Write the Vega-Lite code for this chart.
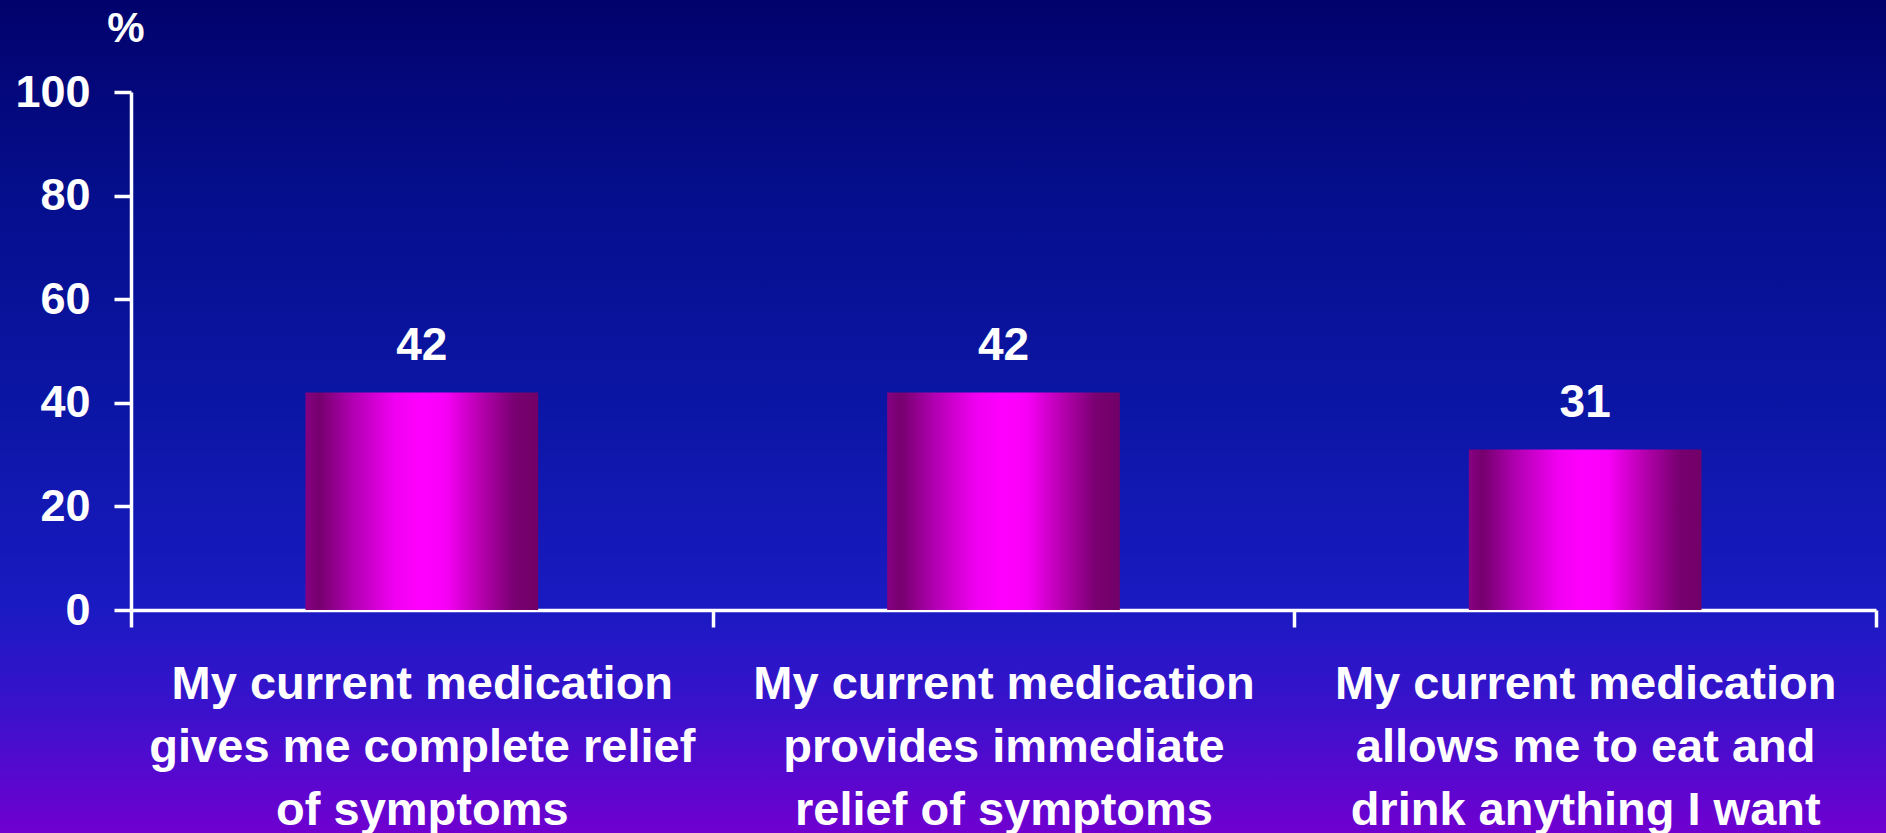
{
  "$schema": "https://vega.github.io/schema/vega-lite/v6.json",
  "width": 1886,
  "height": 833,
  "autosize": {"type": "none"},
  "padding": 0,
  "background": "#0c14a0",
  "view": {
    "stroke": null,
    "fill": {
      "gradient": "linear",
      "x1": 0, "y1": 0, "x2": 0, "y2": 1,
      "stops": [
        {"offset": 0, "color": "#02026c"},
        {"offset": 0.25, "color": "#050f8e"},
        {"offset": 0.5, "color": "#0c16a6"},
        {"offset": 0.73, "color": "#1a1ac2"},
        {"offset": 0.85, "color": "#3a12cc"},
        {"offset": 1, "color": "#7000d0"}
      ]
    }
  },
  "config": {
    "axis": {"grid": false},
    "text": {"font": "Liberation Sans"}
  },
  "data": {
    "values": [
      {"statement": "My current medication|gives me complete relief|of symptoms", "percent": 42},
      {"statement": "My current medication|provides immediate|relief of symptoms", "percent": 42},
      {"statement": "My current medication|allows me to eat and|drink anything I want", "percent": 31}
    ]
  },
  "encoding": {
    "x": {
      "field": "statement",
      "type": "nominal",
      "sort": null,
      "scale": {"range": [131, 1876], "paddingInner": 0, "paddingOuter": 0},
      "axis": {
        "title": null,
        "orient": "bottom",
        "offset": -223,
        "domainColor": "white",
        "domainWidth": 3.5,
        "tickColor": "white",
        "tickWidth": 3.5,
        "tickSize": 17,
        "tickBand": "extent",
        "labelColor": "white",
        "labelFont": "Liberation Sans",
        "labelFontWeight": "bold",
        "labelFontSize": 47,
        "labelLineHeight": 63,
        "labelPadding": 34,
        "labelAngle": 0,
        "labelLimit": 0,
        "labelOverlap": false,
        "labelExpr": "isString(datum.value) ? split(datum.value, '|') : ''"
      }
    },
    "y": {
      "field": "percent",
      "type": "quantitative",
      "scale": {"domain": [0, 100], "range": [610, 92], "nice": false},
      "axis": {
        "values": [0, 20, 40, 60, 80, 100],
        "title": "%",
        "titleAngle": 0,
        "titleX": -5.5,
        "titleY": 41,
        "titleAlign": "center",
        "titleBaseline": "alphabetic",
        "titleFontSize": 42,
        "titleColor": "white",
        "titleFont": "Liberation Sans",
        "titleFontWeight": "bold",
        "offset": -131,
        "domainColor": "white",
        "domainWidth": 3.5,
        "tickColor": "white",
        "tickWidth": 3.5,
        "tickSize": 17,
        "labelPadding": 24,
        "labelFontSize": 45,
        "labelColor": "white",
        "labelFont": "Liberation Sans",
        "labelFontWeight": "bold"
      }
    }
  },
  "layer": [
    {
      "mark": {
        "type": "bar",
        "width": {"band": 0.4},
        "fill": {
          "gradient": "linear",
          "x1": 0, "y1": 0, "x2": 1, "y2": 0,
          "stops": [
            {"offset": 0, "color": "#860082"},
            {"offset": 0.06, "color": "#76006e"},
            {"offset": 0.2, "color": "#b000b0"},
            {"offset": 0.38, "color": "#f000f0"},
            {"offset": 0.5, "color": "#ff00ff"},
            {"offset": 0.6, "color": "#f800f8"},
            {"offset": 0.75, "color": "#b800b0"},
            {"offset": 0.9, "color": "#780070"},
            {"offset": 1, "color": "#720068"}
          ]
        }
      }
    },
    {
      "mark": {
        "type": "text",
        "dy": -32,
        "baseline": "alphabetic",
        "align": "center",
        "color": "white",
        "font": "Liberation Sans",
        "fontWeight": "bold",
        "fontSize": 46
      },
      "encoding": {"text": {"field": "percent", "type": "quantitative"}}
    }
  ]
}
